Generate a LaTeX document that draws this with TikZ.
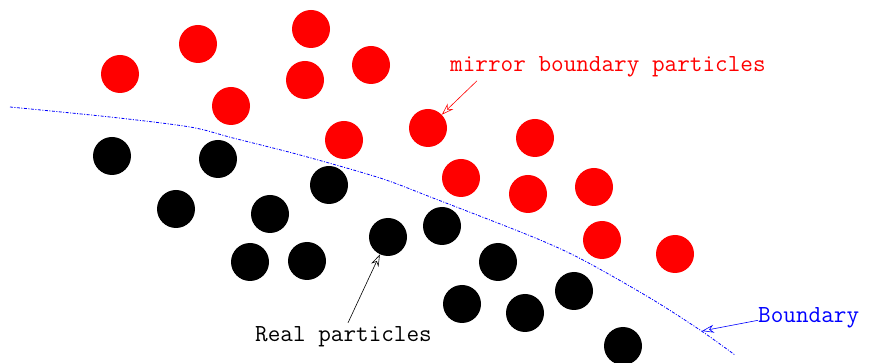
\documentclass[tikz,border=0pt]{standalone}
\usetikzlibrary{arrows.meta}

\begin{document}
\begin{tikzpicture}[x=1pt,y=-1pt]

\tikzset{
  realpart/.style={
    circle,
    fill=black,
    inner sep=0pt,
    minimum size=38pt
  },
  mirrorpart/.style={
    circle,
    fill=red,
    inner sep=0pt,
    minimum size=38pt
  },
  boundline/.style={
    blue,
    line width=0.8pt,
    dash pattern=on 3pt off 1.5pt on 1pt off 1.5pt
  },
  pointer/.style={
    -{Stealth[open,length=12pt,width=8pt]},
    line width=0.6pt
  },
  lbl/.style={
    font=\ttfamily\fontsize{24.5}{28}\selectfont,
    inner sep=0pt
  }
}

% Page frame
\useasboundingbox (0,0) rectangle (871,363);

%%%%%%%%%%%%%%%%%%%%%%%%%%%%%%%%%%%%%%%%%%%%%%%%%%%%%%%%%%%%
%% Mirror boundary particles
%%%%%%%%%%%%%%%%%%%%%%%%%%%%%%%%%%%%%%%%%%%%%%%%%%%%%%%%%%%%
\foreach \n/\px/\py in {1/120/74, 2/198/44, 3/311/29, 4/305/80, 5/371/65,
  6/231/106, 7/344/140, 8/428/128, 9/535/138, 10/461/178, 11/528/194,
  12/594/187, 13/602/240, 14/675/254}{
  \node[mirrorpart] (m\n) at (\px,\py) {};
}

%%%%%%%%%%%%%%%%%%%%%%%%%%%%%%%%%%%%%%%%%%%%%%%%%%%%%%%%%%%%
%% Real particles
%%%%%%%%%%%%%%%%%%%%%%%%%%%%%%%%%%%%%%%%%%%%%%%%%%%%%%%%%%%%
\foreach \n/\px/\py in {1/112/156, 2/218/159, 3/176/209, 4/270/214,
  5/329/185, 6/388/237, 7/442/226, 8/250/262, 9/307/261, 10/498/262,
  11/462/304, 12/525/313, 13/574/291, 14/623/346}{
  \node[realpart] (r\n) at (\px,\py) {};
}

% Boundary curve
\draw[boundline] plot[smooth] coordinates {
  (10,107) (110,117) (190,127) (233,138) (300,155) (380,178)
  (433,198) (533,237) (583,260) (650,298) (700,330) (735,355)};
\coordinate (bnd) at (702,331);

% Labels
\node[lbl, red, anchor=base west] (mirrorlbl) at (450,72)
  {mirror boundary particles};
\node[lbl, anchor=base west] (reallbl) at (255,342)
  {Real particles};
\node[lbl, blue, anchor=base west] (bndlbl) at (758,323)
  {Boundary};

% Pointers
\draw[pointer, red] ([xshift=27pt,yshift=-3pt]mirrorlbl.south west) -- (m8);
\draw[pointer] ([xshift=93pt,yshift=4pt]reallbl.north west) -- (r6);
\draw[pointer, blue] ([yshift=-2pt]bndlbl.west) -- (bnd);

\end{tikzpicture}
\end{document}
